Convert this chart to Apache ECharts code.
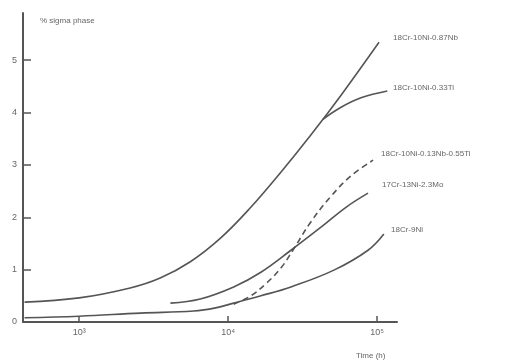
<!DOCTYPE html>
<html>
<head>
<meta charset="utf-8">
<script src="https://cdn.jsdelivr.net/npm/echarts@6/dist/echarts.min.js"></script>
<style>
  html, body { margin: 0; padding: 0; background: #fff; }
  #chart { width: 507px; height: 364px; }
</style>
</head>
<body>
<div id="chart"></div>
<script>
// time in hours, sigma phase in %
const nbHours = [430, 1000, 2200, 3500, 5580, 8890, 14200, 22600, 35900, 57300, 103000]
const nbSigma = [0.38, 0.46, 0.65, 0.84, 1.15, 1.6, 2.19, 2.86, 3.57, 4.33, 5.34]

const tiHours = [43300, 57300, 78000, 117000]
const tiSigma = [3.87, 4.1, 4.28, 4.41]

const nbTiHours = [10900, 14200, 17900, 22600, 27200, 35900, 49000, 66800, 94000]
const nbTiSigma = [0.34, 0.5, 0.73, 1.03, 1.37, 1.91, 2.4, 2.79, 3.09]

const moHours = [4100, 6500, 10900, 16600, 26400, 42000, 61800, 86900]
const moSigma = [0.36, 0.44, 0.67, 0.95, 1.37, 1.81, 2.19, 2.46]

const niHours = [430, 1000, 2580, 5860, 8240, 10900, 16600, 26400, 51300, 86900, 111000]
const niSigma = [0.08, 0.11, 0.17, 0.21, 0.27, 0.36, 0.5, 0.67, 0.99, 1.37, 1.68]

const xTicks = [1000, 10000, 100000]
const xTickLabels = ["10³", "10⁴", "10⁵"]
const yTicks = [0, 1, 2, 3, 4, 5]

const ink = "#555"

const toPoints = (hours, vals) => hours.map((h, i) => [Math.log10(h), vals[i]])

const line = (name, hours, vals, dashed) => ({
  name,
  type: "line",
  smooth: 0.4,
  symbol: "none",
  data: toPoints(hours, vals),
  lineStyle: { color: ink, width: 1.6, type: dashed ? [6, 4] : "solid" },
})

const label = (text, x, y) => ({
  type: "text",
  left: x,
  top: y,
  style: { text, fill: "#666", font: "8px 'Liberation Sans', sans-serif" },
})

const chart = echarts.init(document.getElementById("chart"))
chart.setOption({
  animation: false,
  grid: { left: 23, right: 110, top: 13, bottom: 42 },
  xAxis: {
    type: "value",
    min: Math.log10(420),
    max: Math.log10(136000),
    splitLine: { show: false },
    axisLine: { lineStyle: { color: ink, width: 2 } },
    axisTick: {
      inside: true,
      length: 6,
      customValues: xTicks.map(Math.log10),
      lineStyle: { color: ink, width: 1.5 },
    },
    axisLabel: {
      customValues: xTicks.map(Math.log10),
      formatter: (v) => xTickLabels[Math.round(v) - 3],
      color: "#666",
      fontSize: 9,
      margin: 6,
    },
  },
  yAxis: {
    type: "value",
    min: 0,
    max: 5.9,
    splitLine: { show: false },
    axisLine: { lineStyle: { color: ink, width: 2 } },
    axisTick: {
      inside: true,
      length: 8,
      customValues: yTicks,
      lineStyle: { color: ink, width: 1.5 },
    },
    axisLabel: { customValues: yTicks, color: "#666", fontSize: 9, margin: 6 },
  },
  series: [
    line("18Cr-10Ni-0.87Nb", nbHours, nbSigma),
    line("18Cr-10Ni-0.33Ti", tiHours, tiSigma),
    line("18Cr-10Ni-0.13Nb-0.55Ti", nbTiHours, nbTiSigma, true),
    line("17Cr-13Ni-2.3Mo", moHours, moSigma),
    line("18Cr-9Ni", niHours, niSigma),
  ],
  graphic: [
    label("% sigma phase", 40, 17),
    label("Time (h)", 356, 352),
    label("18Cr-10Ni-0.87Nb", 393, 34),
    label("18Cr-10Ni-0.33Ti", 393, 84),
    label("18Cr-10Ni-0.13Nb-0.55Ti", 381, 150),
    label("17Cr-13Ni-2.3Mo", 382, 181),
    label("18Cr-9Ni", 391, 226),
  ],
})
</script>
</body>
</html>
